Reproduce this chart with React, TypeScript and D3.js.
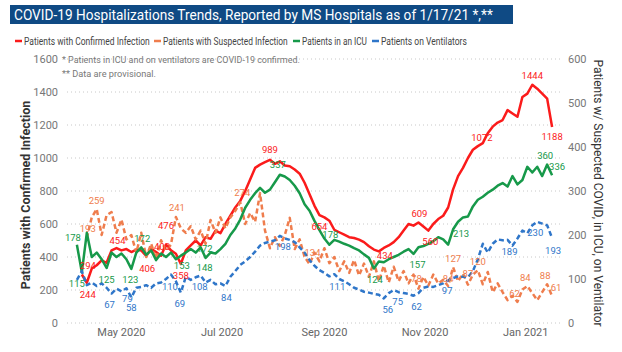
import React, { useLayoutEffect, useRef, useState } from "react";
import * as d3 from "d3";

// daily reports sampled every 3 days, starting Apr 4 2020
const START = new Date(2020, 3, 4);
const STEP_DAYS = 3;

const confirmed = [
  null, 294, 244, 330, 350, 380, 365, 440, 454, 440,
  448, 430, 445, 440, 406, 450, 430, 408, 476, 440,
  420, 358, 440, 470, 500, 470, 520, 510, 560, 545,
  600, 650, 700, 740, 800, 870, 940, 960, 975, 989,
  965, 980, 955, 950, 930, 905, 850, 780, 710, 654,
  640, 620, 565, 550, 535, 520, 515, 505, 490, 465,
  445, 434, 455, 470, 490, 520, 560, 600, 590, 609,
  585, 560, 600, 630, 650, 700, 810, 890, 940, 1000,
  1050, 1072, 1090, 1150, 1190, 1215, 1230, 1290, 1270, 1250,
  1370, 1390, 1444, 1420, 1390, 1360, 1188,
];

const suspected = [
  null, null, 193, 240, 259, 200, 245, 252, 205, 235,
  190, 200, 160, 205, 150, 180, 146, 188, 165, 178,
  241, 215, 205, 220, 190, 210, 180, 234, 205, 240,
  215, 240, 255, 274, 225, 250, 230, 295, 210, 170,
  195, 175, 200, 239, 168, 190, 150, 134, 160, 140,
  170, 136, 150, 118, 140, 114, 143, 108, 135, 105,
  140, 95, 130, 92, 128, 95, 118, 90, 110, 78,
  105, 85, 110, 90, 98, 84, 127, 95, 112, 87,
  110, 120, 88, 116, 70, 90, 70, 52, 62, 48,
  76, 84, 68, 52, 70, 88, 61,
];

const icu = [
  178, 115, 205, 150, 160, 145, 125, 160, 150, 158,
  145, 123, 160, 172, 155, 165, 143, 158, 150, 160,
  145, 153, 160, 168, 160, 172, 148, 160, 158, 168,
  180, 200, 215, 235, 262, 280, 295, 307, 296, 303,
  320, 337, 333, 325, 312, 295, 270, 255, 232, 211,
  192, 178, 189, 185, 180, 176, 170, 165, 156, 148,
  124, 140, 138, 145, 150, 155, 162, 168, 157, 172,
  175, 180, 186, 195, 190, 178, 213, 230, 240, 242,
  265, 280, 287, 296, 303, 312, 318, 310, 334, 315,
  325, 355, 342, 355, 334, 360, 336,
];

const ventilators = [
  98, 118, 86, 92, 84, 90, 80, 67, 78, 72,
  79, 58, 80, 82, 86, 80, 90, 92, 100, 110,
  95, 69, 105, 98, 104, 108, 92, 98, 88, 90,
  84, 105, 118, 132, 140, 150, 162, 176, 182, 185,
  188, 198, 192, 189, 184, 172, 160, 143, 130, 120,
  114, 106, 111, 100, 95, 88, 80, 76, 71, 69,
  66, 64, 56, 68, 75, 70, 68, 66, 62, 68,
  80, 83, 82, 86, 90, 97, 102, 106, 105, 104,
  118, 145, 180, 160, 180, 190, 188, 189, 176, 192,
  210, 204, 222, 230, 226, 222, 193,
];

// [sample index, label, dx, dy]
const confirmedLabels = [
  [1, "294", 6, -9], [2, "244", 1, 12], [8, "454", 1, -8], [14, "406", 1, 12],
  [17, "408", 1, -9], [18, "476", 0, -19], [21, "358", 0, 12], [39, "989", 0, -10],
  [49, "654", 0, 11], [61, "434", 6, 4], [69, "609", 1, -9], [71, "560", 2, 11],
  [81, "1072", 4, -9], [92, "1444", 0, -9], [96, "1188", 0, 10],
];
const suspectedLabels = [
  [2, "193", 1, -10], [4, "259", 0, -9], [20, "241", 1, -9], [33, "274", 2, -10],
  [47, "134", 3, -12], [69, "78", -2, -10], [75, "84", 0, -8], [76, "127", 0, -9],
  [79, "87", 0, -11], [81, "120", 0, -9], [88, "62", 2, -2], [91, "84", -2, -9],
  [95, "88", -2, -9], [96, "61", 4, -9],
];
const icuLabels = [
  [0, "178", -4, -7], [1, "115", -5, 11], [6, "125", 0, 11], [11, "123", -1, 11],
  [13, "172", 1, -9], [21, "153", 1, 10], [25, "172", 4, 1], [26, "148", -1, 10],
  [41, "337", -2, -10], [51, "178", 1, -10], [60, "124", 1, 11], [68, "157", 4, 11],
  [76, "213", 8, 4], [95, "360", -2, -9], [96, "336", 5, -9],
];
const ventLabels = [
  [7, "67", -2, 11], [10, "79", 1, 10], [11, "58", 0, 10], [19, "110", -1, 12],
  [21, "69", -1, 11], [25, "108", -1, 11], [30, "84", 1, 11], [41, "198", 3, 11],
  [52, "111", 3, 12], [62, "56", 4, 11], [64, "75", 4, 11], [68, "62", 3, 11],
  [75, "97", -1, 10], [87, "189", 2, 12], [93, "230", -2, 11], [96, "193", 1, 12],
];

const leftTicks = [0, 200, 400, 600, 800, 1000, 1200, 1400, 1600];
const rightTicks = [0, 100, 200, 300, 400, 500, 600];
const xTicks = [new Date(2020, 4, 1), new Date(2020, 6, 1), new Date(2020, 8, 1), new Date(2020, 10, 1), new Date(2021, 0, 1)];
const xTickLabels = ["May 2020", "Jul 2020", "Sep 2020", "Nov 2020", "Jan 2021"];

const legendNames = ["Patients with Confirmed Infection", "Patients with Suspected Infection", "Patients in an ICU", "Patients on Ventilators"];
const colors = ["#fb1b1b", "#ef7d4d", "#17994a", "#2f76c9"];

const FONT = "Roboto, 'Open Sans', sans-serif";

// text squeezed horizontally to a target width (the original uses a condensed face)
function FitText({ x, y, width, children, ...rest }) {
  const ref = useRef(null);
  const [k, setK] = useState(1);
  useLayoutEffect(() => {
    const n = ref.current ? ref.current.getComputedTextLength() : 0;
    if (n > 0) setK(width / n);
  }, [width]);
  return (
    <text ref={ref} transform={`translate(${x},${y}) scale(${k},1)`} {...rest}>{children}</text>
  );
}

export default function App() {
  const x = d3.scaleTime()
    .domain([new Date(2020, 2, 29), new Date(2021, 0, 23)])
    .range([67, 562]);
  const yLeft = d3.scaleLinear().domain([0, 1600]).range([323, 59]);
  const yRight = d3.scaleLinear().domain([0, 600]).range([323, 59]);
  const dateAt = (k) => d3.timeDay.offset(START, k * STEP_DAYS);

  const series = [
    { values: confirmed, y: yLeft, color: colors[0], dash: null, labels: confirmedLabels },
    { values: suspected, y: yRight, color: colors[1], dash: "5,3", labels: suspectedLabels },
    { values: icu, y: yRight, color: colors[2], dash: null, labels: icuLabels },
    { values: ventilators, y: yRight, color: colors[3], dash: "5,3", labels: ventLabels },
  ];

  const makeLine = (yScale) => d3.line()
    .defined((d) => d != null)
    .x((d, i) => x(dateAt(i)))
    .y((d) => yScale(d));

  const legendX = [15, 154, 293, 372];
  const legendW = [126, 125, 65, 86];

  return (
    <svg width={622} height={352} style={{ position: "absolute", left: 0, top: 0, background: "#fff" }} fontFamily={FONT}>
      <rect x={10} y={5} width={503} height={19} fill="#0f4a84" />
      <FitText x={14} y={20} width={479} fill="#fff" fontSize={15.5}>
        COVID-19 Hospitalizations Trends, Reported by MS Hospitals as of 1/17/21 *,**
      </FitText>

      {legendNames.map((name, i) => (
        <g key={name}>
          <line x1={legendX[i]} x2={legendX[i] + 7} y1={41} y2={41} stroke={colors[i]} strokeWidth={2.5} />
          <FitText x={legendX[i] + 9} y={44.5} width={legendW[i]} fontSize={11} fill="#444">{name}</FitText>
        </g>
      ))}

      {leftTicks.map((t) => (
        <g key={t}>
          <line x1={67} x2={562} y1={yLeft(t)} y2={yLeft(t)} stroke="#c8c8c8" strokeDasharray="1,3" />
          <text x={58} y={yLeft(t) + 4} fontSize={11} fill="#777" textAnchor="end">{t}</text>
        </g>
      ))}
      {rightTicks.map((t) => (
        <text key={t} x={568} y={yRight(t) + 4} fontSize={11} fill="#777">{t}</text>
      ))}
      {xTicks.map((d, i) => (
        <text key={i} x={x(d)} y={336} fontSize={11} fill="#666" textAnchor="middle">{xTickLabels[i]}</text>
      ))}

      <FitText x={62} y={63} width={238} fontSize={9.5} fill="#777">* Patients in ICU and on ventilators are COVID-19 confirmed.</FitText>
      <FitText x={62} y={77} width={94} fontSize={9.5} fill="#777">** Data are provisional.</FitText>

      <text transform="translate(30,195) rotate(-90)" fontSize={12.5} fontWeight="bold" fill="#333" textAnchor="middle">
        Patients with Confirmed Infection
      </text>
      <text transform="translate(594,193) rotate(90)" fontSize={12} fill="#333" textAnchor="middle">
        Patients w/ Suspected COVID, in ICU, on Ventilator
      </text>

      {series.map((s, i) => (
        <path key={i} d={makeLine(s.y)(s.values)} fill="none" stroke={s.color} strokeWidth={2.5}
          strokeDasharray={s.dash || undefined} strokeLinejoin="round" />
      ))}

      {series.map((s, i) => s.labels.map(([k, txt, dx, dy]) => (
        <text key={i + "-" + k} x={x(dateAt(k)) + dx} y={s.y(s.values[k]) + dy + 3.5}
          fontSize={9.5} fill={s.color} textAnchor="middle">{txt}</text>
      )))}
    </svg>
  );
}
